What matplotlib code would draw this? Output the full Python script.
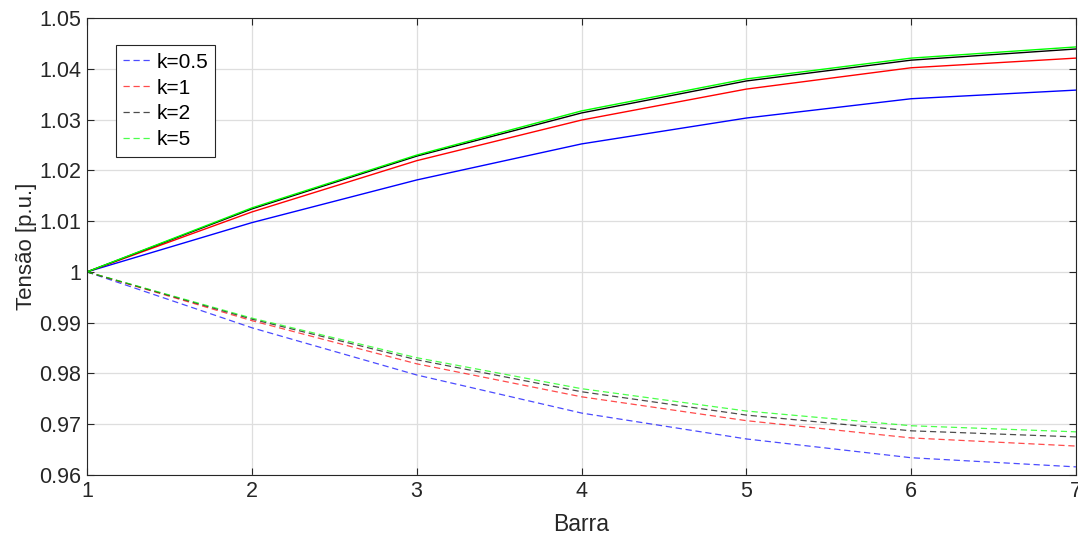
import numpy as np
import matplotlib.pyplot as plt

plt.rcParams['font.family'] = ['Liberation Sans', 'DejaVu Sans']

# bar index
barra = [1, 2, 3, 4, 5, 6, 7]

# solid (upper) voltage profiles
up_k05 = [1.0, 1.0097, 1.0181, 1.0252, 1.0303, 1.0341, 1.0358]
up_k1 = [1.0, 1.0118, 1.0219, 1.0299, 1.0360, 1.0402, 1.0421]
up_k2 = [1.0, 1.0124, 1.0228, 1.0313, 1.0376, 1.0417, 1.0439]
up_k5 = [1.0, 1.0126, 1.0230, 1.0317, 1.0380, 1.0421, 1.0443]

# dashed (lower) voltage profiles
lo_k05 = [1.0, 0.9890, 0.9797, 0.9722, 0.9671, 0.9634, 0.9616]
lo_k1 = [1.0, 0.9904, 0.9819, 0.9754, 0.9707, 0.9673, 0.9657]
lo_k2 = [1.0, 0.9907, 0.9827, 0.9764, 0.9718, 0.9687, 0.9675]
lo_k5 = [1.0, 0.9909, 0.9831, 0.9770, 0.9726, 0.9697, 0.9685]

labels = ['k=0.5', 'k=1', 'k=2', 'k=5']
colors = ['#0000ff', '#ff0000', '#000000', '#00ff00']

fig = plt.figure(figsize=(10.78, 5.36), dpi=100)
ax = fig.add_axes([87 / 1078, 1 - 475 / 536, 989 / 1078, 457 / 536])

for y, c, lab in zip([lo_k05, lo_k1, lo_k2, lo_k5], colors, labels):
    ax.plot(barra, y, color=c, lw=0.9, ls=(0, (5, 3)), alpha=0.7, label=lab)
for y, c in zip([up_k05, up_k1, up_k2, up_k5], colors):
    ax.plot(barra, y, color=c, lw=1.0)

ax.set_xlim(1, 7)
ax.set_ylim(0.96, 1.05)
ax.set_xticks(barra)
ax.set_yticks(np.arange(0.96, 1.0501, 0.01))
ax.set_yticklabels(['0.96', '0.97', '0.98', '0.99', '1', '1.01', '1.02', '1.03', '1.04', '1.05'])
ax.tick_params(direction='in', top=True, right=True, labelsize=15.5, length=5, pad=4,
               color='#262626', labelcolor='#262626')
ax.grid(True, color='#dedede', lw=0.9)
ax.set_axisbelow(True)
for s in ax.spines.values():
    s.set_color('#262626')
    s.set_linewidth(0.8)

ax.set_xlabel('Barra', fontsize=16.5, color='#262626', labelpad=8)
ax.set_ylabel('Tensão [p.u.]', fontsize=16, color='#262626', labelpad=2)

leg = ax.legend(loc='upper left', bbox_to_anchor=(0.029, 0.94), fontsize=15, fancybox=False,
                edgecolor='#262626', framealpha=1, handlelength=1.35, handletextpad=0.25,
                borderpad=0.35, labelspacing=0.33, borderaxespad=0)
leg.get_frame().set_linewidth(0.8)

fig.savefig('out.png', dpi=100)
